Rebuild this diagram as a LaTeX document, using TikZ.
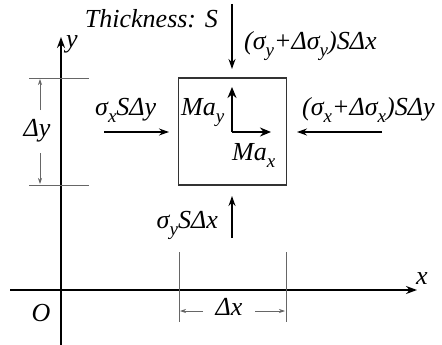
\documentclass[tikz,border=0pt]{standalone}
\usepackage{fontspec}
\setmainfont{Liberation Serif}
\usetikzlibrary{arrows.meta}
\newcommand\lsub[1]{\raisebox{-7pt}{\fontsize{19}{19}\selectfont #1}}
\begin{document}
\begin{tikzpicture}[x=1pt,y=-1pt,
  lbl/.style={inner sep=0pt,font=\fontsize{26}{30}\selectfont\itshape},
  axis/.style={line width=1.6pt,-{Stealth[length=11pt,width=8pt]}},
  force/.style={line width=1.3pt,-{Stealth[length=10pt,width=7pt]}},
  accel/.style={line width=2.2pt,-{Stealth[length=11pt,width=9pt]}},
  dimline/.style={line width=0.8pt,draw=black!60},
  dimarrow/.style={line width=0.7pt,draw=black!60,-{Stealth[length=6pt,width=4pt]}},
  elem/.style={draw=black!80,line width=1.1pt,minimum width=108pt,minimum height=107pt,inner sep=0pt}]
\useasboundingbox (0,0) rectangle (442,345);
% axes
\coordinate (xs) at (10,290); \coordinate (xe) at (417,290);
\coordinate (ys) at (61,345); \coordinate (ye) at (61,37);
\draw[axis] (xs) -- (xe);
\draw[axis] (ys) -- (ye);
\node[lbl,anchor=base west] (xl) at (416,284) {x};
\node[lbl,anchor=base west] (yl) at (66,48) {y};
\node[lbl] (O) at (41,313) {O};
% element
\node[elem] (box) at (232.5,131.5) {};
% accelerations
\coordinate (c) at (232,132);
\coordinate (ay) at (232,87);
\coordinate (ax) at (271,132);
\draw[accel] (c) -- (ay);
\draw[accel] (c) -- (ax);
\node[lbl,anchor=base west] (may) at (181,115) {Ma\lsub{y}};
\node[lbl,anchor=base west] (max) at (232,160) {Ma\lsub{x}};
% forces
\coordinate (t1) at (232,4); \coordinate (t2) at (232,69);
\draw[force] (t1) -- (t2);
\node[lbl,anchor=base east] (th) at (218,28) {Thickness: S};
\node[lbl,anchor=base west] (ft) at (244,50) {(σ\lsub{y}+Δσ\lsub{y})SΔx};
\coordinate (l1) at (104,132); \coordinate (l2) at (169,132);
\draw[force] (l1) -- (l2);
\node[lbl,anchor=base west] (fl) at (95,115) {σ\lsub{x}SΔy};
\coordinate (r1) at (382,132); \coordinate (r2) at (297,132);
\draw[force] (r1) -- (r2);
\node[lbl,anchor=base west] (fr) at (302,115) {(σ\lsub{x}+Δσ\lsub{x})SΔy};
\coordinate (b1) at (232,238); \coordinate (b2) at (232,196);
\draw[force] (b1) -- (b2);
\node[lbl,anchor=base east] (fb) at (218,228) {σ\lsub{y}SΔx};
% dimension dy
\coordinate (h1a) at (29,78); \coordinate (h1b) at (89,78);
\coordinate (h2a) at (29,185); \coordinate (h2b) at (89,185);
\draw[dimline] (h1a) -- (h1b);
\draw[dimline] (h2a) -- (h2b);
\node[lbl] (dy) at (37,131) {Δy};
\coordinate (dyu1) at (40,110); \coordinate (dyu) at (40,79);
\coordinate (dyd1) at (40,153); \coordinate (dyd) at (40,184);
\draw[dimarrow] (dyu1) -- (dyu);
\draw[dimarrow] (dyd1) -- (dyd);
% dimension dx
\coordinate (v1a) at (179,252); \coordinate (v1b) at (179,322);
\coordinate (v2a) at (286,252); \coordinate (v2b) at (286,322);
\draw[dimline] (v1a) -- (v1b);
\draw[dimline] (v2a) -- (v2b);
\node[lbl,anchor=base] (dx) at (229,315) {Δx};
\coordinate (dxl1) at (203,311); \coordinate (dxl) at (180,311);
\coordinate (dxr1) at (255,311); \coordinate (dxr) at (285,311);
\draw[dimarrow] (dxl1) -- (dxl);
\draw[dimarrow] (dxr1) -- (dxr);
\end{tikzpicture}
\end{document}
